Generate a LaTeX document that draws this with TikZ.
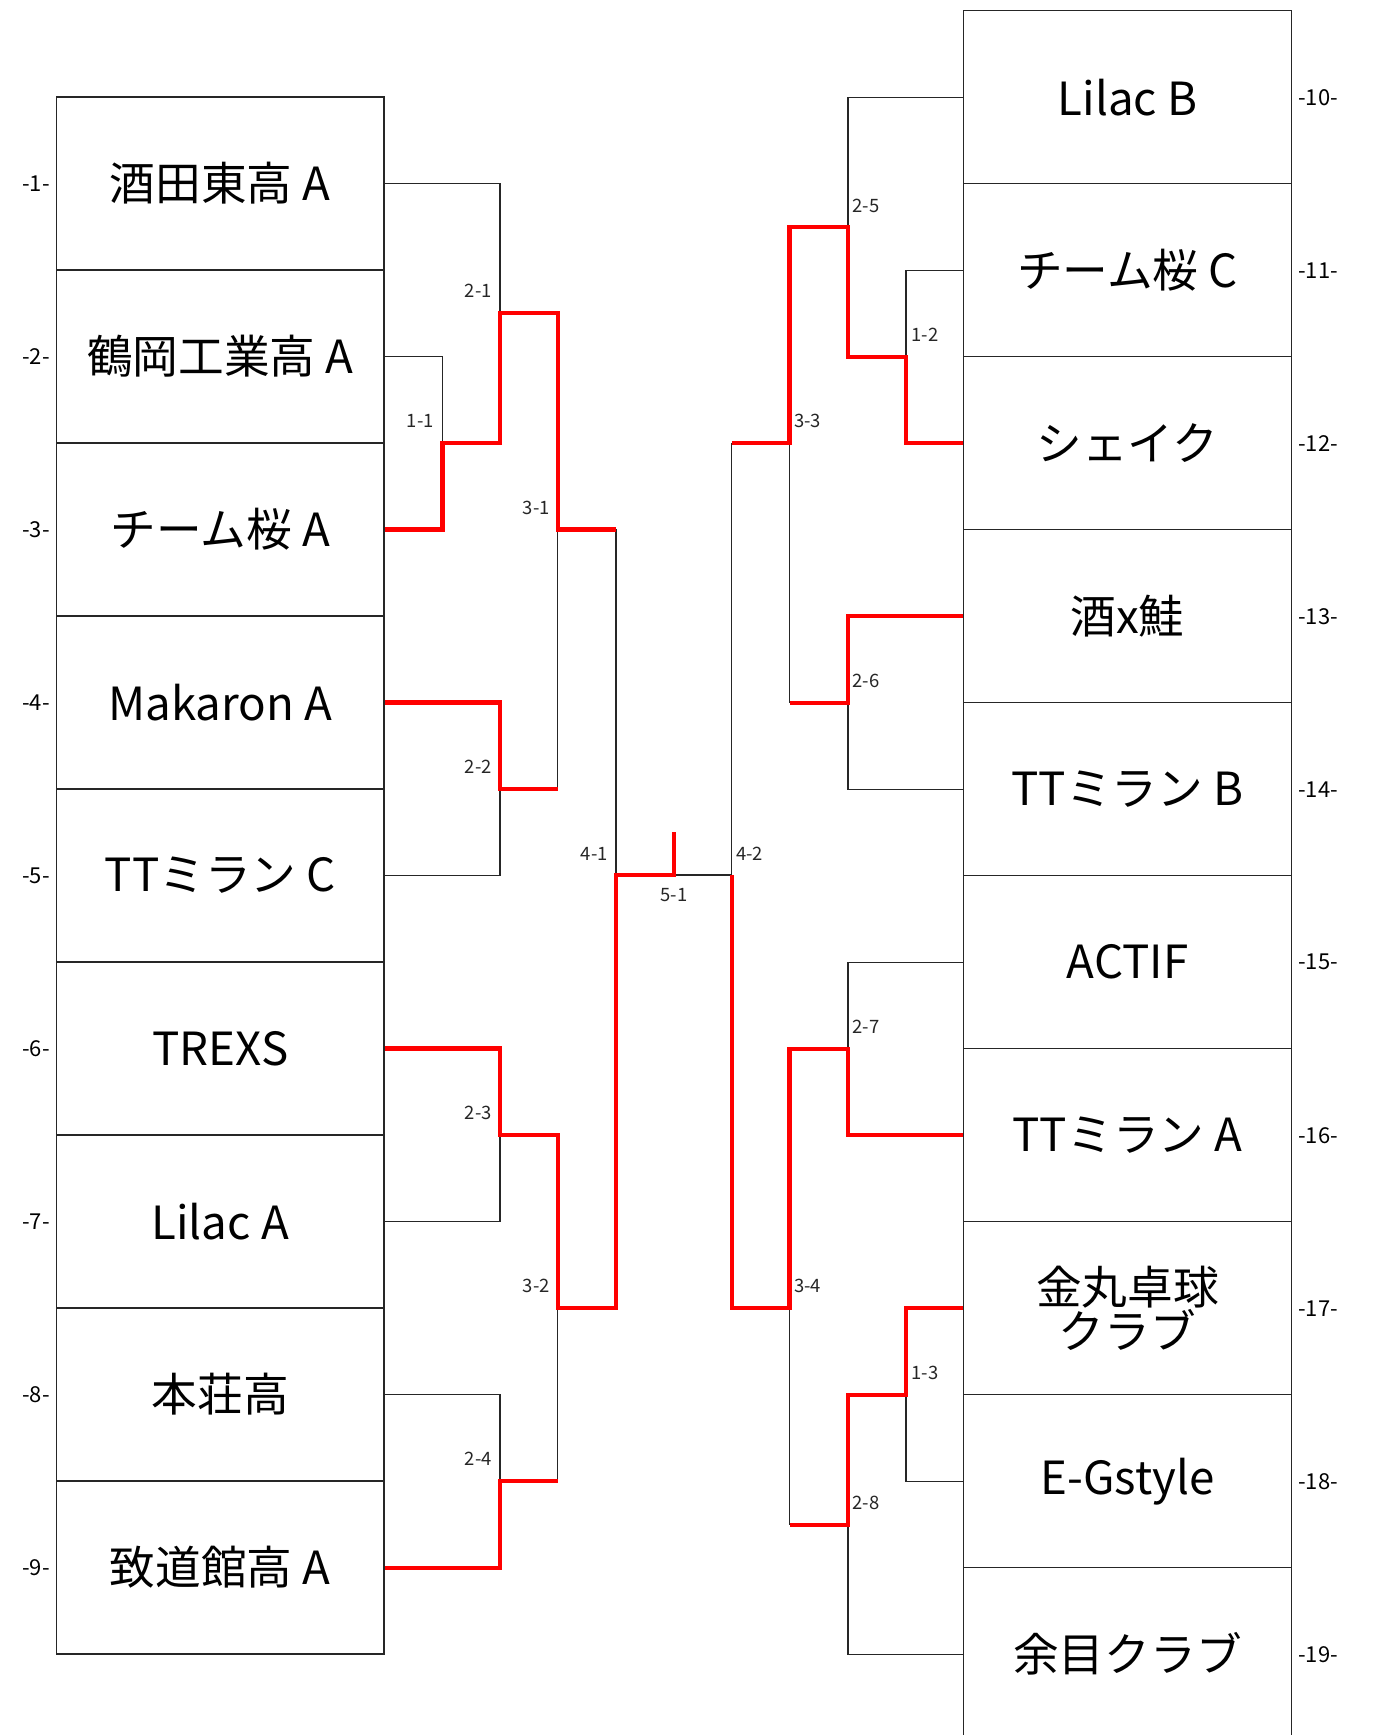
\documentclass[tikz,border=0pt]{standalone}
\usepackage{fontspec}
\setmainfont{Noto Sans CJK JP}
\begin{document}
\begin{tikzpicture}[x=0.02cm,y=-0.02cm,
  equipe/.style={draw=black!85,line width=0.75pt,minimum width=6.55cm,minimum height=3.46cm,
    inner sep=0pt,align=center,font=\fontsize{26}{24}\selectfont},
  numero/.style={inner sep=0pt,font=\fontsize{12.5}{13}\selectfont},
  tour/.style={inner sep=0pt,text=black!85,font=\fontsize{10.5}{11}\selectfont},
  trait/.style={draw=black!85,line width=0.6pt},
  gagne/.style={draw=red,line width=2.3pt}]

\useasboundingbox (0,0) rectangle (1373,1735);
\clip (0,0) rectangle (1373,1735);

% Equipes a gauche
\node[equipe] (t1) at (220.25,183.5) {酒田東高 A};
\node[equipe] (t2) at (220.25,356.5) {鶴岡工業高 A};
\node[equipe] (t3) at (220.25,529.5) {チーム桜 A};
\node[equipe] (t4) at (220.25,702.5) {Makaron A};
\node[equipe] (t5) at (220.25,875.5) {TTミラン C};
\node[equipe] (t6) at (220.25,1048.5) {TREXS};
\node[equipe] (t7) at (220.25,1221.5) {Lilac A};
\node[equipe] (t8) at (220.25,1394.5) {本荘高};
\node[equipe] (t9) at (220.25,1567.5) {致道館高 A};

% Equipes a droite
\node[equipe] (t10) at (1127.5,97.2) {Lilac B};
\node[equipe] (t11) at (1127.5,270.2) {チーム桜 C};
\node[equipe] (t12) at (1127.5,443.2) {シェイク};
\node[equipe] (t13) at (1127.5,616.2) {酒x鮭};
\node[equipe] (t14) at (1127.5,789.2) {TTミラン B};
\node[equipe] (t15) at (1127.5,962.2) {ACTIF};
\node[equipe] (t16) at (1127.5,1135.2) {TTミラン A};
\node[equipe] (t17) at (1127.5,1308.2) {金丸卓球\\クラブ};
\node[equipe] (t18) at (1127.5,1481.2) {E-Gstyle};
\node[equipe] (t19) at (1127.5,1654.2) {余目クラブ};

% Numeros
\node[numero,anchor=east] (n1) at (50,183.5) {-1-};
\node[numero,anchor=east] (n2) at (50,356.5) {-2-};
\node[numero,anchor=east] (n3) at (50,529.5) {-3-};
\node[numero,anchor=east] (n4) at (50,702.5) {-4-};
\node[numero,anchor=east] (n5) at (50,875.5) {-5-};
\node[numero,anchor=east] (n6) at (50,1048.5) {-6-};
\node[numero,anchor=east] (n7) at (50,1221.5) {-7-};
\node[numero,anchor=east] (n8) at (50,1394.5) {-8-};
\node[numero,anchor=east] (n9) at (50,1567.5) {-9-};
\node[numero,anchor=west] (n10) at (1298,97.2) {-10-};
\node[numero,anchor=west] (n11) at (1298,270.2) {-11-};
\node[numero,anchor=west] (n12) at (1298,443.2) {-12-};
\node[numero,anchor=west] (n13) at (1298,616.2) {-13-};
\node[numero,anchor=west] (n14) at (1298,789.2) {-14-};
\node[numero,anchor=west] (n15) at (1298,962.2) {-15-};
\node[numero,anchor=west] (n16) at (1298,1135.2) {-16-};
\node[numero,anchor=west] (n17) at (1298,1308.2) {-17-};
\node[numero,anchor=west] (n18) at (1298,1481.2) {-18-};
\node[numero,anchor=west] (n19) at (1298,1654.2) {-19-};

% Points de rencontre
\coordinate (c11) at (442.5,443);
\coordinate (c21) at (500,313);
\coordinate (c22) at (500,789);
\coordinate (c23) at (500,1135);
\coordinate (c24) at (500,1481);
\coordinate (c31) at (557.6,529.5);
\coordinate (c32) at (557.6,1308);
\coordinate (c41) at (616,875);
\coordinate (c51) at (673.8,875);
\coordinate (s51) at (673.8,832);
\coordinate (c42) at (731.7,875);
\coordinate (c33) at (789.5,443.2);
\coordinate (c34) at (789.5,1308);
\coordinate (c25) at (848,227);
\coordinate (c26) at (848,702.7);
\coordinate (c27) at (848,1048.7);
\coordinate (c28) at (848,1524.5);
\coordinate (c12) at (906,356.7);
\coordinate (c13) at (906,1394.7);

% Tableau (en noir)
\draw[trait] (t2.east) -| (c11) |- (t3.east);
\draw[trait] (t1.east) -| (c21) |- (c11);
\draw[trait] (t4.east) -| (c22) |- (t5.east);
\draw[trait] (t6.east) -| (c23) |- (t7.east);
\draw[trait] (t8.east) -| (c24) |- (t9.east);
\draw[trait] (c21) -| (c31) |- (c22);
\draw[trait] (c23) -| (c32) |- (c24);
\draw[trait] (c31) -| (c41) |- (c32);
\draw[trait] (c41) -- (c42);
\draw[trait] (t11.west) -| (c12) |- (t12.west);
\draw[trait] (t10.west) -| (c25) |- (c12);
\draw[trait] (t13.west) -| (c26) |- (t14.west);
\draw[trait] (t15.west) -| (c27) |- (t16.west);
\draw[trait] (t17.west) -| (c13) |- (t18.west);
\draw[trait] (c13) -| (c28) |- (t19.west);
\draw[trait] (c25) -| (c33) |- (c26);
\draw[trait] (c27) -| (c34) |- (c28);
\draw[trait] (c33) -| (c42) |- (c34);

% Vainqueurs (en rouge)
\draw[gagne] (t3.east) -| (c11) -| (c21) -| (c31) -- (c31 -| c41);
\draw[gagne] (t4.east) -| (c22) -- (c22 -| c31);
\draw[gagne] (t6.east) -| (c23) -| (c32) -| (c41) -- (c51) -- (s51);
\draw[gagne] (t9.east) -| (c24) -- (c24 -| c32);
\draw[gagne] (t12.west) -| (c12) -| (c25) -| (c33) -- (c33 -| c42);
\draw[gagne] (t13.west) -| (c26) -- (c26 -| c33);
\draw[gagne] (t16.west) -| (c27) -| (c34) -| (c42);
\draw[gagne] (t17.west) -| (c13) -| (c28) -- (c28 -| c34);

% Numeros des matchs
\node[tour,anchor=south east] (l11) at (434,428) {1-1};
\node[tour,anchor=south east] (l21) at (492,298) {2-1};
\node[tour,anchor=south east] (l22) at (492,774) {2-2};
\node[tour,anchor=south east] (l23) at (492,1120) {2-3};
\node[tour,anchor=south east] (l24) at (492,1466) {2-4};
\node[tour,anchor=south east] (l31) at (550,515) {3-1};
\node[tour,anchor=south east] (l32) at (550,1293) {3-2};
\node[tour,anchor=south east] (l41) at (608,861) {4-1};
\node[tour,anchor=north] (l51) at (673.8,888) {5-1};
\node[tour,anchor=south west] (l42) at (736,861) {4-2};
\node[tour,anchor=south west] (l33) at (794,428) {3-3};
\node[tour,anchor=south west] (l34) at (794,1293) {3-4};
\node[tour,anchor=south west] (l25) at (852,213) {2-5};
\node[tour,anchor=south west] (l26) at (852,688) {2-6};
\node[tour,anchor=south west] (l27) at (852,1034) {2-7};
\node[tour,anchor=south west] (l28) at (852,1510) {2-8};
\node[tour,anchor=south west] (l12) at (911,342) {1-2};
\node[tour,anchor=south west] (l13) at (911,1380) {1-3};

\end{tikzpicture}
\end{document}
